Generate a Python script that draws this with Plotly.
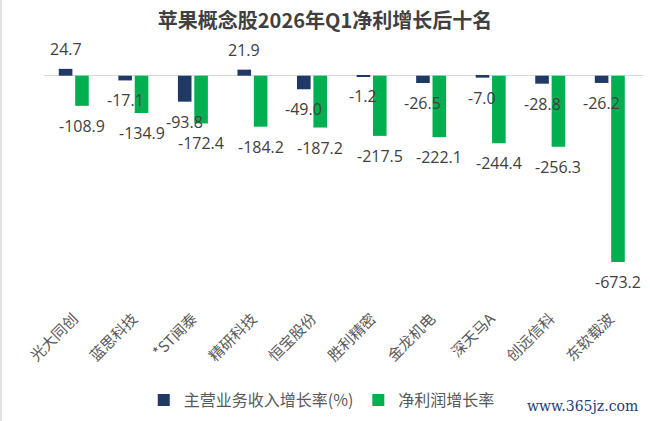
import plotly.graph_objects as go

categories = ["光大同创", "蓝思科技", "*ST闻泰", "精研科技", "恒宝股份",
              "胜利精密", "金龙机电", "深天马A", "创远信科", "东软载波"]
revenue_growth = [24.7, -17.1, -93.8, 21.9, -49.0, -1.2, -26.5, -7.0, -28.8, -26.2]
profit_growth = [-108.9, -134.9, -172.4, -184.2, -187.2, -217.5, -222.1, -244.4, -256.3, -673.2]
series_names = ["主营业务收入增长率(%)", "净利润增长率"]
title_text = "苹果概念股2026年Q1净利增长后十名"
watermark = "www.365jz.com"

NAVY = "#1F3864"
GREEN = "#00B050"
FONT = "Open Sans, Noto Sans CJK SC, sans-serif"
CJK = "Noto Sans CJK SC, sans-serif"

# plot area geometry (pixels)
L, R, T, B = 44, 643, 40, 306
PW, PH = R - L, B - T

fig = go.Figure()
fig.add_trace(go.Bar(x=categories, y=revenue_growth, name=series_names[0],
                     marker=dict(color=NAVY, line=dict(width=0))))
fig.add_trace(go.Bar(x=categories, y=profit_growth, name=series_names[1],
                     marker=dict(color=GREEN, line=dict(width=0))))

annotations = []
for shift, vals in ((-8.2, revenue_growth), (8.2, profit_growth)):
    for c, v in zip(categories, vals):
        annotations.append(dict(
            x=c, y=v, xref="x", yref="y", text=f"{v:.1f}", showarrow=False,
            xshift=shift, yshift=7 if v >= 0 else -7,
            yanchor="bottom" if v >= 0 else "top",
            font=dict(family=FONT, size=16, color="#404040")))

annotations.append(dict(
    x=(582 - L) / PW, y=(B - 406) / PH, xref="paper", yref="paper", text=watermark,
    showarrow=False, xanchor="center", yanchor="middle",
    font=dict(family="DejaVu Serif, serif", size=14, color="#1F3B7A")))

# left border line
fig.add_shape(type="line", xref="paper", yref="paper",
              x0=(1 - L) / PW, x1=(1 - L) / PW,
              y0=(B - 421) / PH, y1=B / PH,
              line=dict(color="#D9D9D9", width=1.5))

zero_px = 75.7
px_per_unit = (262 - zero_px) / 673.2
y_top = (zero_px - T) / px_per_unit
y_bottom = -(B - zero_px) / px_per_unit

fig.update_layout(
    width=650, height=421,
    margin=dict(l=L, r=650 - R, t=T, b=421 - B),
    paper_bgcolor="white", plot_bgcolor="white",
    barmode="group", bargap=0.45, bargroupgap=0.17,
    title=dict(text=f"<b>{title_text}</b>", x=0.5, xref="container", xanchor="center",
               y=1 - 21 / 421, yanchor="middle",
               font=dict(family=CJK, size=20, color="#404040")),
    xaxis=dict(showgrid=False, showline=False, ticks="", tickangle=-45,
               tickfont=dict(family=CJK, size=15, color="#595959")),
    yaxis=dict(range=[y_bottom, y_top], showgrid=False, showticklabels=False,
               zeroline=True, zerolinecolor="#D9D9D9", zerolinewidth=1),
    legend=dict(orientation="h", x=0.495, xref="container", xanchor="center",
                y=1 - 400 / 421, yref="container", yanchor="middle", itemwidth=30,
                font=dict(family=CJK, size=16, color="#595959")),
    annotations=annotations,
    showlegend=True,
)
fig.write_html("out.html")
